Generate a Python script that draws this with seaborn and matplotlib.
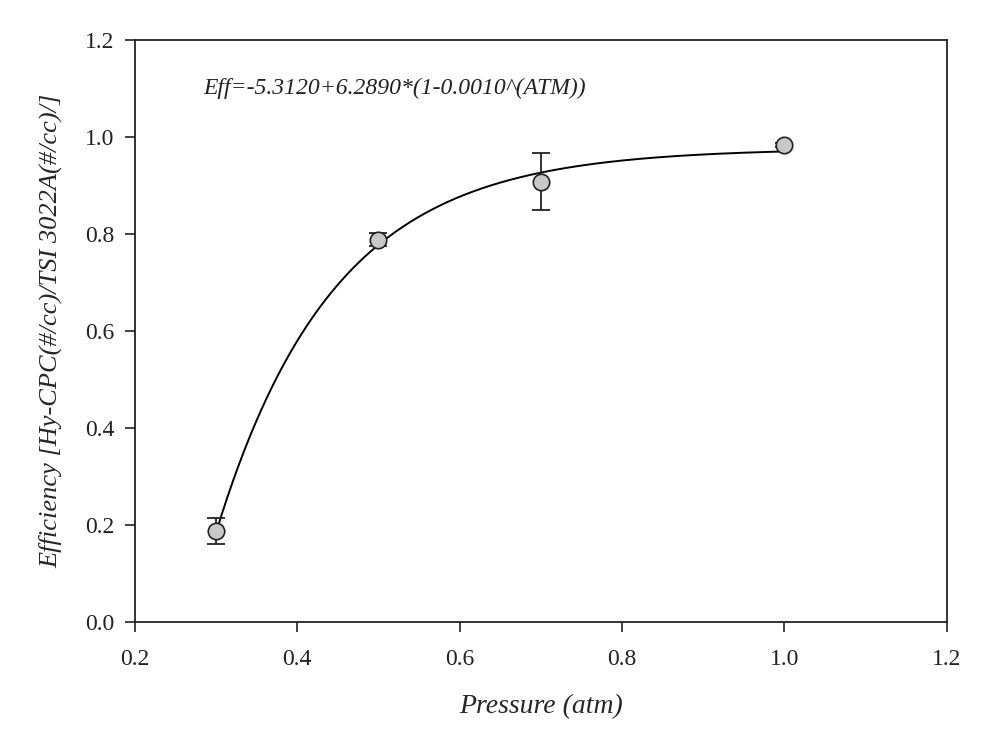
import numpy as np
import pandas as pd
import matplotlib
matplotlib.use("Agg")
import matplotlib.pyplot as plt
import seaborn as sns

# Data
pressure = [0.3, 0.5, 0.7, 1.0]
efficiency = [0.188, 0.789, 0.908, 0.984]
eff_err = [0.027, 0.014, 0.059, 0.005]

# Fit coefficients as given in the chart: Eff = a + b*(1 - c^ATM)
fit_a = -5.3120
fit_b = 6.2890
fit_c = 0.0010
fit_range = [0.3, 1.0]

xticks = [0.2, 0.4, 0.6, 0.8, 1.0, 1.2]
yticks = [0.0, 0.2, 0.4, 0.6, 0.8, 1.0, 1.2]

sns.set_theme(style="ticks")
plt.rcParams['font.family'] = ['Liberation Serif', 'DejaVu Serif']

fig = plt.figure(figsize=(9.85, 7.32), dpi=100)
ax = fig.add_axes([0.137, 0.150, 0.824, 0.795])

xs = np.linspace(fit_range[0], fit_range[1], 300)
curve = pd.DataFrame({"x": xs, "y": fit_a + fit_b * (1 - fit_c ** xs)})
sns.lineplot(data=curve, x="x", y="y", ax=ax, color="black", linewidth=1.4, zorder=2)

ax.errorbar(pressure, efficiency, yerr=eff_err, fmt="none", ecolor="#222222",
            elinewidth=1.3, capsize=6.5, capthick=1.3, zorder=3)
pts = pd.DataFrame({"p": pressure, "e": efficiency})
sns.scatterplot(data=pts, x="p", y="e", ax=ax, s=140, color="#c8c8c8",
                edgecolor="#222222", linewidth=1.2, zorder=4)

ax.set_xlim(0.2, 1.2)
ax.set_ylim(0.0, 1.2)
ax.set_xticks(xticks)
ax.set_yticks(yticks)
ax.set_xticklabels([f"{v:.1f}" for v in xticks], fontsize=17)
ax.set_yticklabels([f"{v:.1f}" for v in yticks], fontsize=17)
ax.tick_params(direction="out", length=7, width=1.2, colors="#222222")
ax.tick_params(axis="x", pad=12)
ax.tick_params(axis="y", pad=8)
for s in ax.spines.values():
    s.set_linewidth(1.3)
    s.set_color("#222222")

ax.set_xlabel("Pressure (atm)", fontsize=20, style="italic", labelpad=18)
ax.set_ylabel("Efficiency [Hy-CPC(#/cc)/TSI 3022A(#/cc)/]", fontsize=19,
              style="italic", labelpad=16)
ax.text(0.084, 0.918, "Eff=-5.3120+6.2890*(1-0.0010^(ATM))", transform=ax.transAxes,
        fontsize=17, style="italic", va="center", ha="left", color="#222222")

fig.savefig("out.png", dpi=100)
